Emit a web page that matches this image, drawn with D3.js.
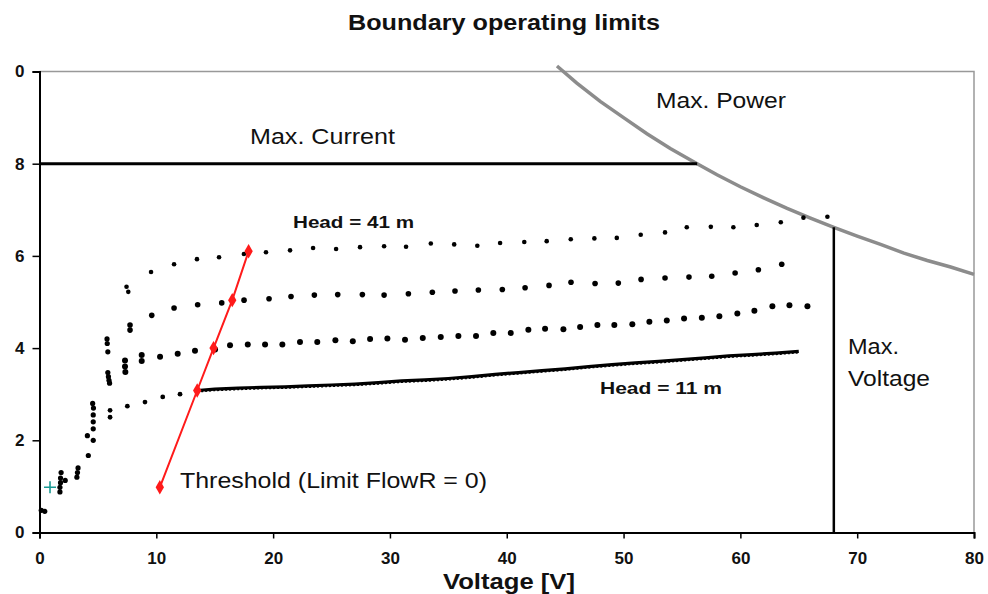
<!DOCTYPE html>
<html>
<head>
<meta charset="utf-8">
<script src="https://cdn.jsdelivr.net/npm/d3@7"></script>
<style>
  html, body { margin: 0; padding: 0; background: #fff; }
  svg { display: block; font-family: "Liberation Sans", Arial, sans-serif; }
</style>
</head>
<body>
<svg id="chart" width="988" height="594"></svg>
<script>
// ---------- data (Voltage [V], Current [A]) ----------
const xTicks = [0, 10, 20, 30, 40, 50, 60, 70, 80];
const yTicks = [0, 2, 4, 6, 8, 10];
const yTickLabels = ["0", "2", "4", "6", "8", "0"];

// Head = 41 m
const head41 = [[7.45,5.33],[7.6,5.22],[9.55,5.65],[11.52,5.82],[13.48,5.93],[15.37,5.97],[17.5,6.04],
  [19.39,6.08],[21.45,6.12],[23.42,6.17],[25.39,6.15],[27.44,6.19],[29.5,6.21],[31.38,6.2],[33.5,6.27],
  [35.5,6.25],[37.48,6.22],[39.43,6.28],[41.5,6.3],[43.42,6.32],[45.48,6.36],[47.5,6.38],[49.42,6.39],
  [51.47,6.46],[53.55,6.51],[55.41,6.62],[57.47,6.63],[59.4,6.62],[61.4,6.67],[63.46,6.73],[65.4,6.83],[67.45,6.85]];

// intermediate head
const head31 = [[7.75,4.5],[7.75,4.39],[9.61,4.71],[11.52,4.87],[13.54,4.94],[15.6,4.98],[17.51,5.04],
  [19.65,5.07],[21.53,5.12],[23.53,5.15],[25.53,5.16],[27.64,5.16],[29.5,5.15],[31.58,5.18],[33.63,5.21],
  [35.57,5.24],[37.57,5.26],[39.62,5.27],[41.57,5.31],[43.62,5.36],[45.5,5.43],[47.56,5.4],[49.55,5.41],
  [51.5,5.49],[53.55,5.52],[55.6,5.54],[57.55,5.56],[59.55,5.63],[61.54,5.7],[63.54,5.82]];

// intermediate head
const head21 = [[7.32,3.73],[7.32,3.6],[7.35,3.48],[8.75,3.85],[8.75,3.72],[10.32,3.81],[11.83,3.88],
  [13.31,3.94],[15.03,3.97],[16.31,4.06],[17.83,4.08],[19.31,4.08],[20.79,4.08],[22.3,4.13],[23.78,4.13],
  [25.33,4.17],[26.82,4.15],[28.3,4.2],[29.78,4.21],[31.29,4.18],[32.81,4.22],[34.35,4.24],[35.86,4.26],
  [37.37,4.26],[38.85,4.33],[40.34,4.33],[41.85,4.4],[43.28,4.42],[44.85,4.41],[46.28,4.46],[47.76,4.5],
  [49.21,4.5],[50.75,4.52],[52.21,4.57],[53.7,4.6],[55.18,4.64],[56.7,4.66],[58.2,4.69],[59.74,4.75],
  [61.2,4.81],[62.74,4.91],[64.2,4.93],[65.74,4.91]];

// Head = 11 m : sparse start then dense trace
const head11Start = [[6.04,2.65],[6.04,2.5],[7.52,2.74],[9.03,2.83],[10.55,2.94],[12.03,3.0]];
const head11Trace = [[13.5,3.08],[15,3.11],[17,3.13],[19,3.15],[21,3.16],[23,3.18],[25,3.2],[27,3.22],
  [29,3.25],[31,3.29],[33,3.31],[35,3.34],[37,3.38],[39,3.43],[41,3.47],[43,3.51],[45,3.55],[47,3.6],
  [49,3.64],[51,3.68],[53,3.71],[55,3.75],[57,3.79],[59,3.83],[61,3.86],[63,3.89],[65,3.93]];

// start-up points near the origin
const startup = [[0.15,0.48],[0.45,0.46],[1.75,0.88],[1.75,0.98],[1.8,1.08],[1.8,1.18],[1.85,1.3],[2.2,1.13],
  [3.2,1.2],[3.25,1.3],[3.3,1.4],[4.18,1.67],[4.1,2.1],[4.6,2.0],[4.6,2.25],[4.6,2.4],[4.6,2.55],[4.62,2.7],
  [4.55,2.8],[5.78,4.2],[5.8,4.1],[5.85,3.92],[5.85,3.47],[5.9,3.38],[5.95,3.3],[6.0,3.24]];

// boundaries
const maxCurrent = [[0, 8], [56.3, 8]];
const maxVoltage = [[68, 0], [68, 6.62]];
const maxPower = [[44.3,10.12],[46,9.75],[48,9.35],[50,9.0],[52,8.65],[54,8.33],[56.3,8.0],[58,7.76],
  [60,7.5],[62,7.26],[64,7.03],[66,6.82],[68,6.62],[70,6.43],[72,6.25],[74,6.06],[76,5.9],[78,5.76],[80,5.6]];

const threshold = [[10.3,0.98],[13.5,3.08],[14.9,4.0],[16.5,5.04],[17.9,6.1]];
const originMark = [[0.9, 0.98]];

// ---------- layout ----------
const svg = d3.select("#chart");
const m = { left: 39.5, right: 974, top: 71.5, bottom: 532.5 };
const x = d3.scaleLinear().domain([0, 80]).range([m.left, m.right]);
const y = d3.scaleLinear().domain([0, 10]).range([m.bottom, m.top]);
const line = d3.line().x(d => x(d[0])).y(d => y(d[1]));

// frame (top & right grey)
svg.append("path")
  .attr("d", `M${m.left},${m.top}H${m.right}V${m.bottom}`)
  .attr("fill", "none").attr("stroke", "#999").attr("stroke-width", 1.5);

// axes
const xAxis = d3.axisBottom(x).tickValues(xTicks).tickSize(6).tickPadding(13);
const gx = svg.append("g").attr("transform", `translate(0,${m.bottom})`).call(xAxis);
gx.select(".domain").attr("stroke", "#000").attr("stroke-width", 2);
gx.selectAll(".tick line").attr("stroke", "#000").attr("stroke-width", 1.5);
gx.selectAll("text").attr("font-size", 17).attr("font-weight", "bold")
  .attr("fill", "#111").attr("font-family", "Liberation Sans, Arial, sans-serif");

const yAxis = d3.axisLeft(y).tickValues(yTicks).tickSize(7).tickPadding(8)
  .tickFormat((d, i) => yTickLabels[i]);
const gy = svg.append("g").attr("transform", `translate(${m.left},0)`).call(yAxis);
gy.select(".domain").attr("stroke", "#000").attr("stroke-width", 2);
gy.selectAll(".tick line").attr("stroke", "#000").attr("stroke-width", 1.5);
gy.selectAll("text").attr("font-size", 17).attr("font-weight", "bold")
  .attr("fill", "#111").attr("font-family", "Liberation Sans, Arial, sans-serif");

// boundary lines
svg.append("path").datum(maxPower).attr("d", line)
  .attr("fill", "none").attr("stroke", "#8c8c8c").attr("stroke-width", 3.5);
svg.append("path").datum(maxCurrent).attr("d", line)
  .attr("fill", "none").attr("stroke", "#000").attr("stroke-width", 3);
svg.append("path").datum(maxVoltage).attr("d", line)
  .attr("fill", "none").attr("stroke", "#000").attr("stroke-width", 2.5);

// measured points
function dots(data, r) {
  svg.append("g").selectAll("circle").data(data).join("circle")
    .attr("cx", d => x(d[0])).attr("cy", d => y(d[1])).attr("r", r).attr("fill", "#000");
}
dots(head41, 2.3);
dots(head31, 2.8);
dots(head21, 3.0);
dots(head11Start, 2.4);
dots(startup, 2.6);
svg.append("path").datum(head11Trace).attr("d", line)
  .attr("fill", "none").attr("stroke", "#000").attr("stroke-width", 3.2);
svg.append("path").datum(head11Trace).attr("d", line)
  .attr("fill", "none").attr("stroke", "#000").attr("stroke-width", 1.2)
  .attr("stroke-dasharray", "2,2").attr("transform", "translate(0,1.5)");

// threshold line
svg.append("path").datum(threshold).attr("d", line)
  .attr("fill", "none").attr("stroke", "#ff1a1a").attr("stroke-width", 2);
svg.append("g").selectAll("path").data(threshold).join("path")
  .attr("d", d3.symbol().type(d3.symbolDiamond).size(60))
  .attr("transform", d => `translate(${x(d[0])},${y(d[1])})`)
  .attr("fill", "#ff1a1a");

// teal cross
svg.append("g").selectAll("path").data(originMark).join("path")
  .attr("d", d => `M${x(d[0]) - 6},${y(d[1])}h12M${x(d[0])},${y(d[1]) - 6}v12`)
  .attr("stroke", "#1a9a94").attr("stroke-width", 1.6).attr("fill", "none");

// texts (widths fitted to the reference)
const txt = (s, tx, ty, size, weight, anchor, len) => {
  const t = svg.append("text")
    .attr("x", tx).attr("y", ty).attr("font-size", size).attr("font-weight", weight || "normal")
    .attr("text-anchor", anchor || "start").attr("fill", "#111").text(s);
  if (len) t.attr("textLength", len).attr("lengthAdjust", "spacingAndGlyphs");
  return t;
};

txt("Boundary operating limits", 504, 30, 22, "bold", "middle", 312);
txt("Voltage [V]", 509, 589, 22, "bold", "middle", 132);
txt("Max. Current", 250, 144, 22, "normal", "start", 145);
txt("Max. Power", 656, 108, 22, "normal", "start", 130);
txt("Head = 41 m", 293, 228, 17, "bold", "start", 121);
txt("Head = 11 m", 600, 394, 17, "bold", "start", 122);
txt("Max.", 848, 354, 22, "normal", "start", 51);
txt("Voltage", 848, 386, 22, "normal", "start", 82);
txt("Threshold (Limit FlowR = 0)", 180, 488, 22, "normal", "start", 307);
</script>
</body>
</html>
